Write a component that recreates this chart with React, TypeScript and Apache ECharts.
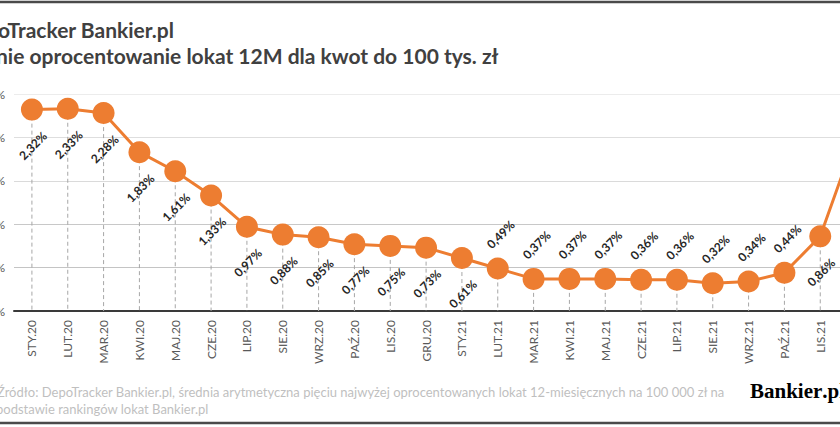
import React, { useEffect, useRef } from "react";
import * as echarts from "echarts";

// Average 12M deposit rate, monthly
const months = [
  "STY.20", "LUT.20", "MAR.20", "KWI.20", "MAJ.20", "CZE.20", "LIP.20", "SIE.20",
  "WRZ.20", "PAŹ.20", "LIS.20", "GRU.20", "STY.21", "LUT.21", "MAR.21", "KWI.21",
  "MAJ.21", "CZE.21", "LIP.21", "SIE.21", "WRZ.21", "PAŹ.21", "LIS.21", "GRU.21",
];
const avgRate = [
  2.32, 2.33, 2.28, 1.83, 1.61, 1.33, 0.97, 0.88, 0.85, 0.77, 0.75, 0.73,
  0.61, 0.49, 0.37, 0.37, 0.37, 0.36, 0.36, 0.32, 0.34, 0.44, 0.86, 2.02,
];
const yTicks = [0, 0.5, 1, 1.5, 2, 2.5];
const titleLines = [
  "DepoTracker Bankier.pl",
  "Średnie oprocentowanie lokat 12M dla kwot do 100 tys. zł",
];
const sourceLines = [
  "Źródło: DepoTracker Bankier.pl, średnia arytmetyczna pięciu najwyżej oprocentowanych lokat 12-miesięcznych na 100 000 zł na",
  "podstawie rankingów lokat Bankier.pl",
];

// points whose value label sits above the marker
const ABOVE_FROM = 13;
const ABOVE_TO = 21;

const ORANGE = "#ED7D31";
const FONT = "Lato, 'Open Sans', sans-serif";
const LABEL_ROTATE = 45;

const pct2 = (v: number) => v.toFixed(2).replace(".", ",") + "%";
const pct1 = (v: number) => v.toFixed(1).replace(".", ",") + "%";

// label offsets are applied in the rotated text frame; convert a screen shift into it
const toLabelFrame = (dx: number, dy: number) => {
  const a = (LABEL_ROTATE * Math.PI) / 180;
  const c = Math.cos(a);
  const s = Math.sin(a);
  return [dx * c - dy * s, dx * s + dy * c];
};

export default function App() {
  const ref = useRef<HTMLDivElement>(null);

  useEffect(() => {
    if (!ref.current) return;
    const chart = echarts.init(ref.current, null, { renderer: "svg" });

    const gridColors = ["#bfbfbf", "#c4c4c4", "#c8c8c8", "#dadada", "#dedede", "#ececec"];
    const belowShift = toLabelFrame(1, 36);
    const aboveShift = toLabelFrame(3, -34);

    chart.setOption({
      animation: false,
      backgroundColor: "#ffffff",
      grid: {
        left: 14,
        top: 94,
        width: 860,
        height: 217,
        containLabel: false,
        outerBoundsMode: "none",
      },
      xAxis: {
        type: "category",
        data: months,
        boundaryGap: true,
        axisLine: { show: true, lineStyle: { color: "#3a3a3a", width: 2 } },
        axisTick: { show: false },
        axisLabel: {
          rotate: 90,
          interval: 0,
          margin: 9,
          fontFamily: FONT,
          fontSize: 12,
          color: "#595959",
        },
      },
      yAxis: {
        type: "value",
        min: 0,
        max: yTicks[yTicks.length - 1],
        interval: yTicks[1] - yTicks[0],
        axisLine: { show: false },
        axisTick: { show: false },
        axisLabel: {
          margin: 9,
          fontFamily: FONT,
          fontSize: 12,
          color: "#595959",
          formatter: (v: number) => pct1(v),
        },
        splitLine: { show: true, lineStyle: { color: gridColors, width: 1 } },
      },
      series: [
        {
          // dashed drop lines from each point to the axis
          type: "custom",
          silent: true,
          z: 1,
          data: avgRate.map((v, i) => [i, v]),
          encode: { x: 0, y: 1 },
          renderItem: (_params: any, api: any) => {
            const top = api.coord([api.value(0), api.value(1)]);
            const base = api.coord([api.value(0), 0]);
            return {
              type: "line",
              shape: { x1: top[0], y1: top[1], x2: base[0], y2: base[1] },
              style: { stroke: "#a6a6a6", lineWidth: 1, lineDash: [4, 3] },
            };
          },
        },
        {
          type: "line",
          z: 3,
          symbol: "circle",
          symbolSize: 22,
          itemStyle: { color: ORANGE },
          lineStyle: { color: ORANGE, width: 3 },
          data: avgRate.map((v, i) => {
            const above = i >= ABOVE_FROM && i <= ABOVE_TO;
            return { value: v, label: { offset: above ? aboveShift : belowShift } };
          }),
          label: {
            show: true,
            position: "inside",
            rotate: LABEL_ROTATE,
            align: "center",
            verticalAlign: "middle",
            fontFamily: FONT,
            fontWeight: "bold",
            fontSize: 12,
            color: "#262626",
            textBorderWidth: 0,
            formatter: (p: any) => pct2(p.value),
          },
        },
      ],
      graphic: [
        {
          type: "line",
          shape: { x1: 0, y1: 2, x2: 840, y2: 2 },
          style: { stroke: "#4a4a4a", lineWidth: 2.5 },
        },
        {
          type: "line",
          shape: { x1: 0, y1: 423, x2: 840, y2: 423 },
          style: { stroke: "#4a4a4a", lineWidth: 2.5 },
        },
        {
          type: "text",
          x: -41,
          y: 40,
          style: {
            text: titleLines[0],
            fontFamily: FONT,
            fontWeight: "bold",
            fontSize: 21,
            fill: "#404040",
            textVerticalAlign: "bottom",
          },
        },
        {
          type: "text",
          x: -46,
          y: 66,
          style: {
            text: titleLines[1],
            fontFamily: FONT,
            fontWeight: "bold",
            fontSize: 21,
            fill: "#404040",
            textVerticalAlign: "bottom",
          },
        },
        {
          type: "text",
          x: -3,
          y: 398,
          style: {
            text: sourceLines[0],
            fontFamily: FONT,
            fontSize: 13,
            fill: "#bfbfbf",
            textVerticalAlign: "bottom",
          },
        },
        {
          type: "text",
          x: -4,
          y: 415,
          style: {
            text: sourceLines[1],
            fontFamily: FONT,
            fontSize: 13,
            fill: "#bfbfbf",
            textVerticalAlign: "bottom",
          },
        },
        {
          type: "text",
          x: 750,
          y: 401,
          style: {
            text: "{b|Bankier}{d|.}{b|pl}",
            textVerticalAlign: "bottom",
            rich: {
              b: {
                fontFamily: "'Liberation Serif', serif",
                fontWeight: "bold",
                fontSize: 21,
                color: "#1b2a47",
              },
              d: {
                fontFamily: "'Liberation Serif', serif",
                fontWeight: "bold",
                fontSize: 21,
                color: ORANGE,
              },
            },
          },
        },
      ],
    });

    return () => chart.dispose();
  }, []);

  return (
    <div style={{ position: "fixed", left: 0, top: 0, width: 840, height: 427, background: "#fff" }}>
      <div ref={ref} style={{ width: 840, height: 427 }} />
    </div>
  );
}
